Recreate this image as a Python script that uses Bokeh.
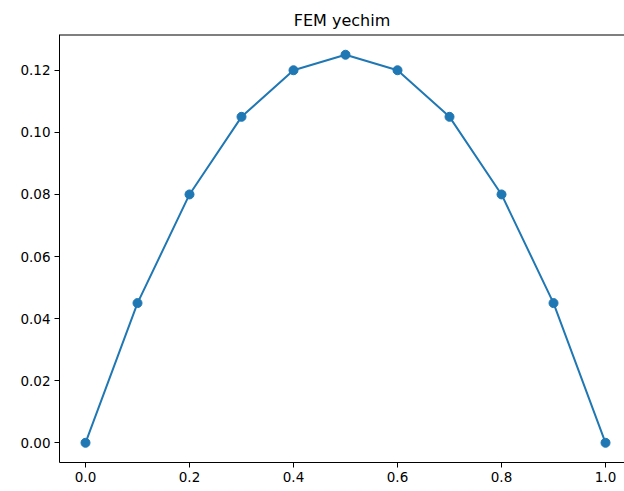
from bokeh.plotting import figure
from bokeh.models import Range1d, SingleIntervalTicker, NumeralTickFormatter, Span
from bokeh.embed import file_html
from bokeh.resources import INLINE

x_vals = [0.0, 0.1, 0.2, 0.3, 0.4, 0.5, 0.6, 0.7, 0.8, 0.9, 1.0]
y_vals = [0.0, 0.045, 0.08, 0.105, 0.12, 0.125, 0.12, 0.105, 0.08, 0.045, 0.0]
title_text = "FEM yechim"

p = figure(width=624, height=491, output_backend="svg", toolbar_location=None,
           x_range=Range1d(-0.05, 1.0365), y_range=Range1d(-0.00635, 0.13152),
           min_border_left=59, min_border_right=0, min_border_top=34, min_border_bottom=29)
p.title.text = title_text
p.title.align = "center"
p.title.text_font = "DejaVu Sans"
p.title.text_font_size = "16px"
p.title.text_font_style = "normal"
p.title.text_color = "black"

p.outline_line_color = None
p.xgrid.visible = False
p.ygrid.visible = False

for ax in (p.xaxis[0], p.yaxis[0]):
    ax.major_label_text_font = "DejaVu Sans"
    ax.major_label_text_font_size = "13.5px"
    ax.major_label_text_color = "black"
    ax.axis_line_color = "black"
    ax.major_tick_line_color = "black"
    ax.major_tick_out = 5
    ax.major_tick_in = 0
    ax.minor_tick_line_color = None
    ax.major_label_standoff = 4

p.xaxis[0].ticker = SingleIntervalTicker(interval=0.2)
p.xaxis[0].formatter = NumeralTickFormatter(format="0.0")
p.yaxis[0].ticker = SingleIntervalTicker(interval=0.02)
p.yaxis[0].formatter = NumeralTickFormatter(format="0.00")

p.add_layout(Span(location=0.13152, dimension="width", line_color="black", line_width=2))

p.line(x_vals, y_vals, line_color="#1f77b4", line_width=2)
p.scatter(x_vals, y_vals, size=9, fill_color="#1f77b4", line_color="#1f77b4")

open("out.html", "w").write(file_html(p, INLINE))
